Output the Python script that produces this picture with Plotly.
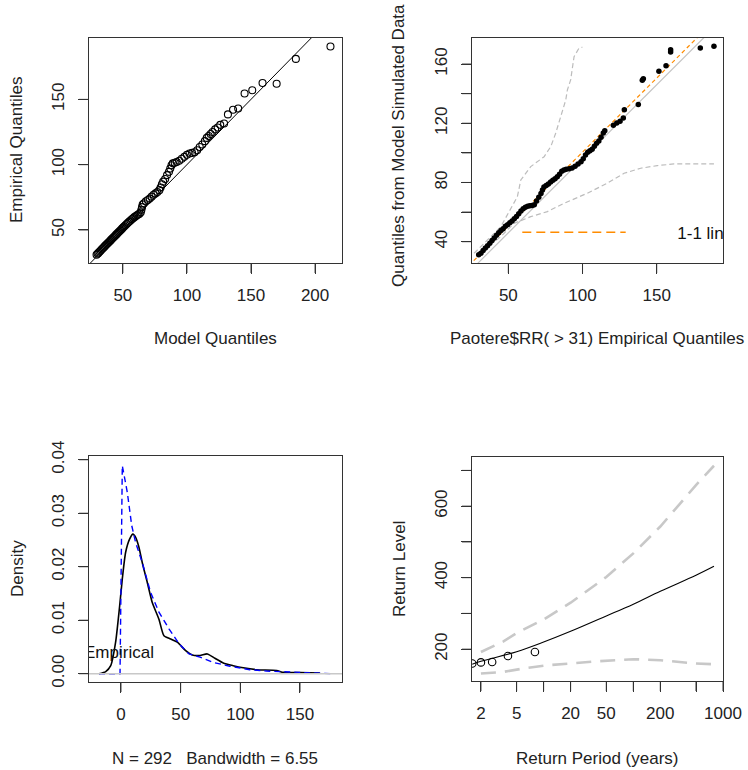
import plotly.graph_objects as go
import math

# ---------------- data ----------------
# Panel 1: QQ plot (model quantiles vs empirical quantiles)
p1_model = [29.5,30.3,31.0,31.8,32.6,33.4,34.2,35.0,35.8,36.6,37.4,38.2,39.0,39.8,40.6,41.4,42.2,43.0,43.8,44.6,
            45.4,46.2,47.0,47.8,48.6,49.4,50.2,51.0,52.0,53.0,54.0,55.0,56.0,57.0,58.0,59.0,60.0,61.0,62.0,63.0,
            64.0,64.5,65.0,65.5,66.5,68.0,69.5,71.0,72.5,74.0,75.5,77.0,78.5,79.5,80.5,81.5,83.0,84.5,86.0,87.0,
            88.0,89.0,90.5,92.0,94.0,96.0,98.0,100.0,102.0,104.0,106.0,108.0,110.0,112.0,114.0,115.5,117.0,118.5,
            120.0,122.0,124.0,126.0,129.0,132.0,136.0,140.0,145.0,151.0,159.0,170.0,185.0,212.0]
p1_emp = [31.0,31.8,32.5,33.3,34.1,35.0,35.8,36.6,37.4,38.2,39.0,39.8,40.6,41.4,42.2,43.0,43.8,44.6,45.4,46.2,
          47.0,47.8,48.6,49.4,50.2,51.0,51.8,52.6,53.6,54.6,55.5,56.4,57.3,58.2,59.0,59.8,60.5,61.2,61.8,62.5,
          63.5,65.5,67.5,69.5,70.5,72.0,73.0,74.0,75.5,77.0,78.0,79.0,80.5,82.5,85.0,87.0,89.0,92.0,94.5,97.0,
          99.5,101.0,101.5,102.0,103.0,104.5,106.0,107.5,108.5,109.0,109.5,111.0,113.5,115.5,118.0,120.5,122.0,123.5,
          125.0,127.0,128.5,130.5,131.5,138.5,142.0,143.0,154.5,157.0,162.5,162.0,181.0,190.5]
p1_line = [20, 230]          # 1-1 line extent
p1_xticks = [50, 100, 150, 200]
p1_yticks = [50, 100, 150]

# Panel 2: empirical vs model-simulated quantiles
p2_emp = [30.0,31.5,33.0,34.5,36.0,37.5,39.0,40.5,42.0,43.5,45.0,46.5,48.0,49.5,51.0,52.5,54.0,55.5,57.0,58.5,
          60.0,61.5,63.0,64.5,66.0,67.5,69.0,70.5,72.0,73.0,74.0,75.5,77.0,78.5,80.0,81.5,83.0,84.5,86.0,87.5,
          89.0,91.0,93.0,95.0,97.0,99.0,100.5,102.0,103.5,105.0,106.5,108.0,109.5,111.0,112.5,114.0,115.0,120.8,
          123.1,125.3,127.5,128.2,137.6,140.3,141.0,151.5,156.3,159.4,159.4,179.4,188.6]
p2_sim = [31.2,32.2,34.0,35.7,37.3,39.0,40.8,42.5,44.3,46.0,47.5,48.8,50.4,51.5,52.8,54.0,55.5,57.0,58.8,60.8,
          62.2,63.3,64.0,64.2,64.5,65.0,67.5,70.0,72.5,75.0,77.0,78.0,79.0,80.3,81.5,82.5,83.8,85.5,87.5,88.5,
          89.0,89.3,89.8,91.0,92.5,94.0,96.0,98.5,100.5,101.5,102.5,104.5,106.5,108.0,110.5,113.5,115.0,118.6,
          120.2,121.4,123.6,129.2,132.6,149.0,150.0,155.1,158.9,168.2,169.7,170.9,172.0]
p2_upper_x = [26.9,44.9,56.1,58.4,65.1,74.1,78.6,81.9,85.3,88.7,89.8,92.0,94.3,97.6,99.9]
p2_upper_y = [32.2,50.1,70.4,81.7,90.7,97.4,104.2,113.2,124.5,135.7,142.5,149.3,165.0,170.7,171.4]
p2_lower_x = [29.1,44.9,53.8,65.1,76.3,87.5,103.2,116.7,128.0,139.2,150.4,161.7,188.6]
p2_lower_y = [31.0,43.4,52.4,56.9,60.3,65.9,72.7,79.5,86.2,89.6,91.4,92.5,92.5]
p2_line_x = [20, 200]
p2_oneone_offset = -4.0      # grey 1-1 line as drawn
p2_reg_intercept, p2_reg_slope = 0.5, 1.0
p2_leg_seg_x = [59.4, 129.1]
p2_leg_seg_y = [46.3, 46.3]
p2_leg_text = "1-1 line"
p2_leg_text_xy = (163.9, 44.5)
p2_xticks = [50, 100, 150]
p2_yticks = [40, 60, 80, 100, 120, 140, 160]
p2_ytext = ["40", "", "80", "", "120", "", "160"]

# Panel 3: density plot
dens_x = [-18.4,-12.8,-8.6,-4.5,-1.1,1.1,3.9,7.3,10.0,12.3,15.1,17.8,22.0,26.2,31.8,36.0,41.6,47.2,54.2,59.7,
          66.2,72.3,78.7,85.7,94.0,102.4,113.6,130.4,136.0,150.0,166.7]
dens_y = [0.0,0.0004,0.0015,0.0059,0.0127,0.0177,0.0227,0.0252,0.0261,0.0255,0.0236,0.0208,0.0171,0.0133,0.0102,
          0.0071,0.0065,0.0059,0.0043,0.0035,0.0034,0.0037,0.0029,0.0020,0.0015,0.0011,0.00075,0.0006,0.00025,0.0002,0.0001]
mod_x = [-18.4,-0.8,1.1,5.3,9.0,12.3,17.8,24.8,31.8,40.2,48.6,57.0,66.2,77.3,91.3,108.0,122.0,138.8,158.3,176.5]
mod_y = [0.0,0.0,0.0389,0.0339,0.0277,0.0245,0.0208,0.0152,0.0115,0.0084,0.0056,0.0037,0.0031,0.0021,0.0014,
         0.00075,0.0005,0.00037,0.00025,0.0]
p3_leg_text = "Empirical"
p3_leg_xy = (27.6, 0.0037)
p3_xtitle = "N = 292   Bandwidth = 6.55"
p3_xticks = [0, 50, 100, 150]
p3_yticks = [0, 0.01, 0.02, 0.03, 0.04]
p3_ytext = ["0.00", "0.01", "0.02", "0.03", "0.04"]

# Panel 4: return level plot
rp_pts_x = [8.0, 4.0, 2.667, 2.0, 1.6]
rp_pts_y = [192, 181, 164, 163, 160]
rl_x = [1.6, 2, 5, 10, 20, 50, 100, 200, 500, 793]
rl_y = [158, 166, 193, 220, 250, 293, 326, 362, 407, 432]
rl_up_x = [2, 3.57, 5, 10, 20, 50, 100, 200, 500, 793]
rl_up_y = [192, 222, 245, 283, 330, 402, 468, 543, 659, 713]
rl_lo_x = [2, 3.57, 5.96, 10.9, 19.7, 39.2, 100, 200, 500, 793]
rl_lo_y = [132, 136.5, 146, 155, 160, 166, 172, 169, 160, 158]
p4_xticks = [2, 5, 10, 20, 50, 100, 200, 500, 1000]
p4_xtext = ["2", "5", "", "20", "50", "", "200", "", "1000"]
p4_yticks = [200, 300, 400, 500, 600, 700]
p4_ytext = ["200", "", "400", "", "600", ""]

# ---------------- figure ----------------
W, H = 748, 770
FONT = "Liberation Sans, Arial, sans-serif"
FS = 17
AXC = "#333333"
TICKLEN = 10


def dom_x(a, b):
    return [a / W, b / W]


def dom_y(top, bottom):
    return [1 - bottom / H, 1 - top / H]


def axis(domain, rng, tickvals, ticktext=None, typ="linear", angle=0, standoff=7, anchor=None):
    d = dict(domain=domain, range=rng, type=typ, tickmode="array", tickvals=tickvals,
             showline=True, mirror=True, linecolor=AXC, linewidth=1,
             ticks="outside", ticklen=TICKLEN, tickcolor=AXC, tickwidth=1,
             showgrid=False, zeroline=False, tickangle=angle, automargin=False,
             tickfont=dict(family=FONT, size=FS, color="#222"),
             ticklabelstandoff=standoff, anchor=anchor)
    if ticktext is not None:
        d["ticktext"] = ticktext
    return d


fig = go.Figure()

# Panel 1
fig.add_trace(go.Scatter(x=p1_line, y=p1_line, mode="lines", line=dict(color="black", width=1),
                         xaxis="x", yaxis="y"))
fig.add_trace(go.Scatter(x=p1_model, y=p1_emp, mode="markers",
                         marker=dict(symbol="circle-open", size=7, color="black", line=dict(width=1.1)),
                         xaxis="x", yaxis="y"))

# Panel 2
fig.add_trace(go.Scatter(x=p2_line_x, y=[v + p2_oneone_offset for v in p2_line_x], mode="lines",
                         line=dict(color="#c4c4c4", width=1.2), xaxis="x2", yaxis="y2"))
fig.add_trace(go.Scatter(x=p2_line_x, y=[p2_reg_intercept + p2_reg_slope * v for v in p2_line_x], mode="lines",
                         line=dict(color="#ff8c00", width=1.2, dash="4px,3px"), xaxis="x2", yaxis="y2"))
fig.add_trace(go.Scatter(x=p2_upper_x, y=p2_upper_y, mode="lines",
                         line=dict(color="#bcbcbc", width=1.2, dash="5px,3px"), xaxis="x2", yaxis="y2"))
fig.add_trace(go.Scatter(x=p2_lower_x, y=p2_lower_y, mode="lines",
                         line=dict(color="#bcbcbc", width=1.2, dash="5px,3px"), xaxis="x2", yaxis="y2"))
fig.add_trace(go.Scatter(x=p2_emp, y=p2_sim, mode="markers",
                         marker=dict(symbol="circle", size=5.5, color="black"), xaxis="x2", yaxis="y2"))
fig.add_trace(go.Scatter(x=p2_leg_seg_x, y=p2_leg_seg_y, mode="lines",
                         line=dict(color="#ff8c00", width=1.5, dash="9px,5px"), xaxis="x2", yaxis="y2"))
fig.add_trace(go.Scatter(x=[p2_leg_text_xy[0]], y=[p2_leg_text_xy[1]], mode="text", text=[p2_leg_text],
                         textposition="middle right", textfont=dict(family=FONT, size=FS, color="#111"),
                         cliponaxis=True, xaxis="x2", yaxis="y2"))

# Panel 3
fig.add_trace(go.Scatter(x=dens_x, y=dens_y, mode="lines", line=dict(color="black", width=1.6, shape="spline", smoothing=0.6),
                         xaxis="x3", yaxis="y3"))
fig.add_trace(go.Scatter(x=mod_x, y=mod_y, mode="lines", line=dict(color="#0000ff", width=1.4, dash="6px,4px"),
                         xaxis="x3", yaxis="y3"))
fig.add_trace(go.Scatter(x=[p3_leg_xy[0]], y=[p3_leg_xy[1]], mode="text", text=[p3_leg_text],
                         textposition="middle left", textfont=dict(family=FONT, size=FS, color="#111"),
                         cliponaxis=True, xaxis="x3", yaxis="y3"))

# Panel 4
fig.add_trace(go.Scatter(x=rl_up_x, y=rl_up_y, mode="lines", line=dict(color="#c8c8c8", width=2.6, dash="15px,9px"),
                         xaxis="x4", yaxis="y4"))
fig.add_trace(go.Scatter(x=rl_lo_x, y=rl_lo_y, mode="lines", line=dict(color="#c8c8c8", width=2.6, dash="15px,9px"),
                         xaxis="x4", yaxis="y4"))
fig.add_trace(go.Scatter(x=rl_x, y=rl_y, mode="lines", line=dict(color="black", width=1.1, shape="spline"),
                         xaxis="x4", yaxis="y4"))
fig.add_trace(go.Scatter(x=rp_pts_x, y=rp_pts_y, mode="markers",
                         marker=dict(symbol="circle-open", size=7.5, color="black", line=dict(width=1.1)),
                         xaxis="x4", yaxis="y4"))

top_x1, top_x2 = dom_x(89, 342), dom_x(472, 723)
top_y = dom_y(38, 263)
bot_y3 = dom_y(456, 682)
bot_y4 = dom_y(457, 681)

fig.update_layout(
    template="none",
    width=W, height=H, margin=dict(l=0, r=0, t=0, b=0, pad=0),
    paper_bgcolor="white", plot_bgcolor="white", showlegend=False,
    xaxis=axis(top_x1, [23.6, 221], p1_xticks, anchor="y"),
    yaxis=axis(top_y, [24.7, 197], p1_yticks, angle=-90, anchor="x"),
    xaxis2=axis(top_x2, [25.5, 194.7], p2_xticks, anchor="y2"),
    yaxis2=axis(top_y, [25.6, 177.6], p2_yticks, p2_ytext, angle=-90, anchor="x2"),
    xaxis3=axis(top_x1, [-26.8, 185.2], p3_xticks, anchor="y3"),
    yaxis3=axis(bot_y3, [-0.00155, 0.0407], p3_yticks, p3_ytext, angle=-90, anchor="x3"),
    xaxis4=axis(top_x2, [math.log10(1.59), 3.0], p4_xticks, p4_xtext, typ="log", anchor="y4"),
    yaxis4=axis(bot_y4, [111, 737.5], p4_yticks, p4_ytext, angle=-90, anchor="x4"),
)

# explicit outward tick marks (R style)
tick_sets = [("x", "y", p1_xticks, p1_yticks), ("x2", "y2", p2_xticks, p2_yticks),
             ("x3", "y3", p3_xticks, p3_yticks), ("x4", "y4", p4_xticks, p4_yticks)]
for xa, ya, xt, yt in tick_sets:
    for v in xt:
        fig.add_shape(type="line", xref=xa, yref=ya + " domain", x0=v, x1=v,
                      ysizemode="pixel", yanchor=0, y0=0, y1=-TICKLEN,
                      line=dict(color=AXC, width=1), layer="above")
    for v in yt:
        fig.add_shape(type="line", yref=ya, xref=xa + " domain", y0=v, y1=v,
                      xsizemode="pixel", xanchor=0, x0=0, x1=-TICKLEN,
                      line=dict(color=AXC, width=1), layer="above")

# grey zero line in density panel
fig.add_shape(type="line", xref="x3 domain", yref="y3", x0=0, x1=1, y0=0, y1=0,
              line=dict(color="#c8c8c8", width=1.5))

titles = [
    ("Model Quantiles", 215, 338, 0),
    ("Empirical Quantiles", 17, 150, -90),
    ("Paotere$RR( > 31) Empirical Quantiles", 597, 338, 0),
    ("Quantiles from Model Simulated Data", 399, 146, -90),
    (p3_xtitle, 215, 758, 0),
    ("Density", 17, 569, -90),
    ("Return Period (years)", 597, 758, 0),
    ("Return Level", 399, 569, -90),
]
for txt, px, py, ang in titles:
    fig.add_annotation(text=txt, xref="paper", yref="paper", x=px / W, y=1 - py / H,
                       xanchor="center", yanchor="middle", showarrow=False, textangle=ang,
                       font=dict(family=FONT, size=FS, color="#222"))

fig.write_html("out.html", config={"displayModeBar": False},
               post_script="document.body.style.margin='0px';document.body.style.padding='0px';")
